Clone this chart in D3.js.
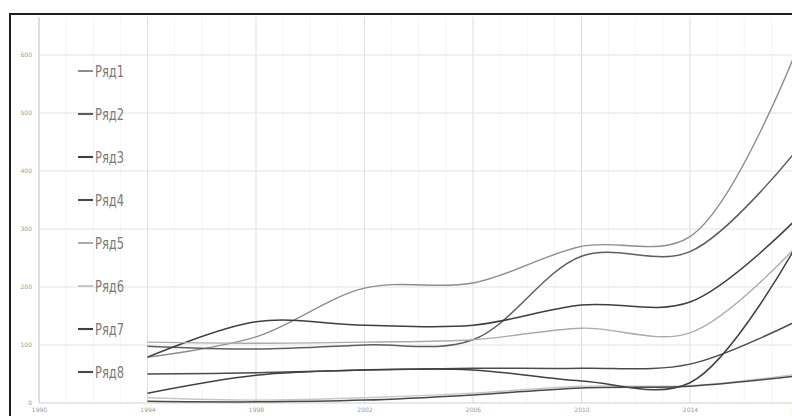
<!DOCTYPE html>
<html>
<head>
<meta charset="utf-8">
<script src="https://cdn.jsdelivr.net/npm/d3@7/dist/d3.min.js"></script>
<style>
  html, body { margin: 0; padding: 0; background: #fff; overflow: hidden; }
  svg { display: block; }
</style>
</head>
<body>
<svg id="chart" width="792" height="416"></svg>
<script>
// ---- data ----
const xTickLabels = ["1990", "1994", "1998", "2002", "2006", "2010", "2014", "2018"];
const yTickValues = [0, 100, 200, 300, 400, 500, 600];
const pointIndex = [1, 2, 3, 4, 5, 6, 7];
const seriesNames = ["Ряд1", "Ряд2", "Ряд3", "Ряд4", "Ряд5", "Ряд6", "Ряд7", "Ряд8"];
const row1 = [79, 114, 198, 207, 270, 287, 617];
const row2 = [98, 93, 100, 109, 253, 261, 440];
const row3 = [79, 140, 134, 134, 169, 174, 321];
const row4 = [50, 52, 57, 60, 60, 67, 143];
const row5 = [105, 103, 105, 109, 129, 121, 274];
const row6 = [9, 5, 9, 17, 29, 30, 50];
const row7 = [17, 48, 57, 57, 38, 35, 278];
const row8 = [3, 2, 5, 14, 26, 29, 47];
const seriesValues = [row1, row2, row3, row4, row5, row6, row7, row8];

// ---- styles ----
const seriesColors = ["#8c8c8c", "#5e5e5e", "#3e3e3e", "#4a4a4a", "#ababab", "#c6c6c6", "#404040", "#484848"];
const seriesWidths = [1.4, 1.5, 1.5, 1.5, 1.4, 1.4, 1.5, 1.5];

const svg = d3.select("#chart");

// outer frame (extends beyond the visible crop)
svg.append("rect").attr("x", 10).attr("y", 14).attr("width", 820).attr("height", 430)
  .attr("fill", "#fff").attr("stroke", "#1e1e1e").attr("stroke-width", 2);

const x = d3.scaleLinear().domain([0, 7]).range([39, 798.5]);
const y = d3.scaleLinear().domain([0, 600]).range([403, 55]);
const plotTop = 17;

// minor vertical gridlines
const g = svg.append("g");
const minor = d3.range(0, 7.01, 0.25).filter(v => Math.abs(v - Math.round(v)) > 0.01);
g.selectAll("line.minor").data(minor).join("line")
  .attr("x1", d => x(d)).attr("x2", d => x(d))
  .attr("y1", plotTop).attr("y2", y(0))
  .attr("stroke", "#f5f5f5").attr("stroke-width", 1);

// major vertical gridlines
g.selectAll("line.vgrid").data(d3.range(0, 8)).join("line")
  .attr("x1", d => x(d)).attr("x2", d => x(d))
  .attr("y1", plotTop).attr("y2", y(0))
  .attr("stroke", "#dcdcdc").attr("stroke-width", 1);

// horizontal gridlines
g.selectAll("line.hgrid").data(yTickValues).join("line")
  .attr("x1", x(0)).attr("x2", 792)
  .attr("y1", d => y(d)).attr("y2", d => y(d))
  .attr("stroke", d => d === 0 ? "#cfcfcf" : "#e3e3e3").attr("stroke-width", 1.2);

// axes (labels only, via d3 axes)
const yAxis = d3.axisLeft(y).tickValues(yTickValues).tickSize(0).tickPadding(7)
  .tickFormat(d => String(d));
const yg = svg.append("g").attr("transform", `translate(${x(0)},0)`).call(yAxis);
yg.select(".domain").remove();
yg.selectAll("text").attr("fill", "#9a9a9a").style("font-size", "6px")
  .style("font-family", "DejaVu Sans");

const xAxis = d3.axisBottom(x).tickValues(d3.range(0, 8)).tickSize(0).tickPadding(5)
  .tickFormat(i => xTickLabels[i]);
const xg = svg.append("g").attr("transform", `translate(0,${y(0)})`).call(xAxis);
xg.select(".domain").remove();
xg.selectAll("text").attr("fill", "#9a9a9a").style("font-size", "6px")
  .style("font-family", "DejaVu Sans");

// left axis line
svg.append("line").attr("x1", x(0)).attr("x2", x(0)).attr("y1", plotTop).attr("y2", y(0))
  .attr("stroke", "#d6d6d6").attr("stroke-width", 1.2);

// series lines
const line = d3.line()
  .x((d, i) => x(pointIndex[i]))
  .y(d => y(d))
  .curve(d3.curveCatmullRom.alpha(0.5));

svg.append("g").selectAll("path").data(seriesValues).join("path")
  .attr("d", d => line(d))
  .attr("fill", "none")
  .attr("stroke", (d, i) => seriesColors[i])
  .attr("stroke-width", (d, i) => seriesWidths[i]);

// legend
const legend = svg.append("g");
const legY = d3.scaleLinear().domain([0, 7]).range([71, 372]);
const items = legend.selectAll("g").data(seriesNames).join("g")
  .attr("transform", (d, i) => `translate(0,${legY(i)})`);
items.append("line").attr("x1", 78).attr("x2", 93).attr("y1", 0).attr("y2", 0)
  .attr("stroke", (d, i) => seriesColors[i]).attr("stroke-width", (d, i) => seriesWidths[i] + 0.6);
items.append("text").attr("x", 95).attr("y", 6)
  .attr("textLength", 29).attr("lengthAdjust", "spacingAndGlyphs")
  .style("font-family", "DejaVu Sans Condensed, DejaVu Sans")
  .style("font-size", "16px")
  .attr("fill", "#7a7a7a")
  .text(d => d);
</script>
</body>
</html>
